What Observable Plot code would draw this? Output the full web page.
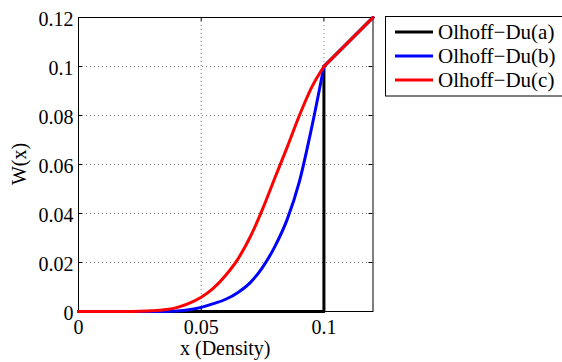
<!DOCTYPE html>
<html>
<head>
<meta charset="utf-8">
<script src="https://cdn.jsdelivr.net/npm/d3@7"></script>
<script src="https://cdn.jsdelivr.net/npm/@observablehq/plot@0.6"></script>
<style>
  html, body { margin: 0; padding: 0; background: #fff; }
  #chart { width: 562px; height: 362px; }
  #chart svg text { font-family: 'Liberation Serif', 'Times New Roman', Times, serif; }
</style>
</head>
<body>
<div id="chart"></div>
<script>
const xTicks = [0, 0.05, 0.1];
const xTickLabels = ["0", "0.05", "0.1"];
const yTicks = [0, 0.02, 0.04, 0.06, 0.08, 0.1, 0.12];
const yTickLabels = ["0", "0.02", "0.04", "0.06", "0.08", "0.1", "0.12"];

const seriesNames = ["Olhoff\u2212Du(a)", "Olhoff\u2212Du(b)", "Olhoff\u2212Du(c)"];
const seriesColors = ["#000000", "#0000ff", "#ff0000"];

const xLabel = "x (Density)";
const yLabel = "W(x)";

// Series (a): step at 0.1, then linear
const aX = [0, 0.1, 0.1, 0.12];
const aY = [0, 0, 0.1, 0.12];

// Series (b)
const bX = [0, 0.035, 0.04, 0.045, 0.05, 0.055, 0.06, 0.065, 0.07, 0.075, 0.08, 0.085, 0.09, 0.095, 0.1];
const bY = [0, 0, 0.0002, 0.0007, 0.0017, 0.0032, 0.0050, 0.0078, 0.0118, 0.0180, 0.0265, 0.0375, 0.0530, 0.0750, 0.1];

// Series (c)
const cX = [0, 0.02, 0.025, 0.03, 0.035, 0.04, 0.045, 0.05, 0.055, 0.06, 0.065, 0.07, 0.075, 0.08, 0.085, 0.09, 0.095, 0.1];
const cY = [0, 0, 0.0001, 0.0003, 0.0007, 0.0016, 0.0033, 0.0058, 0.0095, 0.0148, 0.0215, 0.0305, 0.0418, 0.0545, 0.0670, 0.0800, 0.0915, 0.1];

// Common linear tail for x >= 0.1
const tailX = [0.1, 0.12];
const tailY = [0.1, 0.12];

const zip = (xs, ys) => xs.map((x, i) => ({x, y: ys[i]}));
const aData = zip(aX, aY);
const bData = zip(bX, bY);
const cData = zip(cX, cY);
const tailData = zip(tailX, tailY);

const W = 562, H = 362;
const mL = 78, mR = 189.5, mT = 17, mB = 51;
const innerW = W - mL - mR, innerH = H - mT - mB;
const tickLen = 4;
const fontFam = "'Liberation Serif', 'Times New Roman', Times, serif";

const plot = Plot.plot({
  width: W,
  height: H,
  marginLeft: mL,
  marginRight: mR,
  marginTop: mT,
  marginBottom: mB,
  style: {fontFamily: fontFam, fontSize: "20px", background: "#fff", color: "#000"},
  x: {domain: [0, 0.12]},
  y: {domain: [0, 0.12]},
  marks: [
    Plot.gridX(xTicks, {stroke: "#808080", strokeOpacity: 1, strokeDasharray: "1,3"}),
    Plot.gridY(yTicks, {stroke: "#808080", strokeOpacity: 1, strokeDasharray: "1,3"}),
    Plot.tickX(xTicks, {x: d => d, stroke: "#000", insetTop: innerH - tickLen}),
    Plot.tickX(xTicks, {x: d => d, stroke: "#000", insetBottom: innerH - tickLen}),
    Plot.tickY(yTicks, {y: d => d, stroke: "#000", insetRight: innerW - tickLen}),
    Plot.tickY(yTicks, {y: d => d, stroke: "#000", insetLeft: innerW - tickLen}),
    Plot.frame({stroke: "#000", strokeWidth: 1}),
    Plot.line(aData, {x: "x", y: "y", stroke: seriesColors[0], strokeWidth: 3, curve: "linear"}),
    Plot.line(tailData, {x: "x", y: "y", stroke: seriesColors[0], strokeWidth: 3}),
    Plot.line(bData, {x: "x", y: "y", stroke: seriesColors[1], strokeWidth: 3, curve: "monotone-x"}),
    Plot.line(tailData, {x: "x", y: "y", stroke: seriesColors[1], strokeWidth: 3}),
    Plot.line(cData, {x: "x", y: "y", stroke: seriesColors[2], strokeWidth: 3, curve: "monotone-x"}),
    Plot.line(tailData, {x: "x", y: "y", stroke: seriesColors[2], strokeWidth: 3}),
    Plot.axisX(xTicks, {tickSize: 0, tickPadding: 8, label: null, fontSize: 20,
      tickFormat: d => xTickLabels[xTicks.indexOf(d)]}),
    Plot.axisY(yTicks, {tickSize: 0, tickPadding: 5, label: null, dy: 2, fontSize: 20,
      tickFormat: d => yTickLabels[yTicks.indexOf(d)]})
  ]
});

document.getElementById("chart").appendChild(plot);

const svg = d3.select(plot);

// Axis labels
svg.append("text")
  .attr("x", mL + innerW / 2)
  .attr("y", 355)
  .attr("text-anchor", "middle")
  .attr("font-size", 20)
  .attr("fill", "#000")
  .text(xLabel);

svg.append("text")
  .attr("transform", `translate(26,${mT + innerH / 2}) rotate(-90)`)
  .attr("text-anchor", "middle")
  .attr("font-size", 20)
  .attr("fill", "#000")
  .text(yLabel);

// Legend
const lg = svg.append("g");
lg.append("rect")
  .attr("x", 385.5).attr("y", 16.5)
  .attr("width", 185).attr("height", 79.5)
  .attr("fill", "#fff").attr("stroke", "#000").attr("stroke-width", 1);
seriesNames.forEach((name, i) => {
  const yy = 32 + i * 24;
  lg.append("line")
    .attr("x1", 395).attr("x2", 433)
    .attr("y1", yy).attr("y2", yy)
    .attr("stroke", seriesColors[i]).attr("stroke-width", 3);
  lg.append("text")
    .attr("x", 438).attr("y", yy + 7)
    .attr("text-anchor", "start")
    .attr("font-size", 21)
    .attr("fill", "#000")
    .text(name);
});
</script>
</body>
</html>
